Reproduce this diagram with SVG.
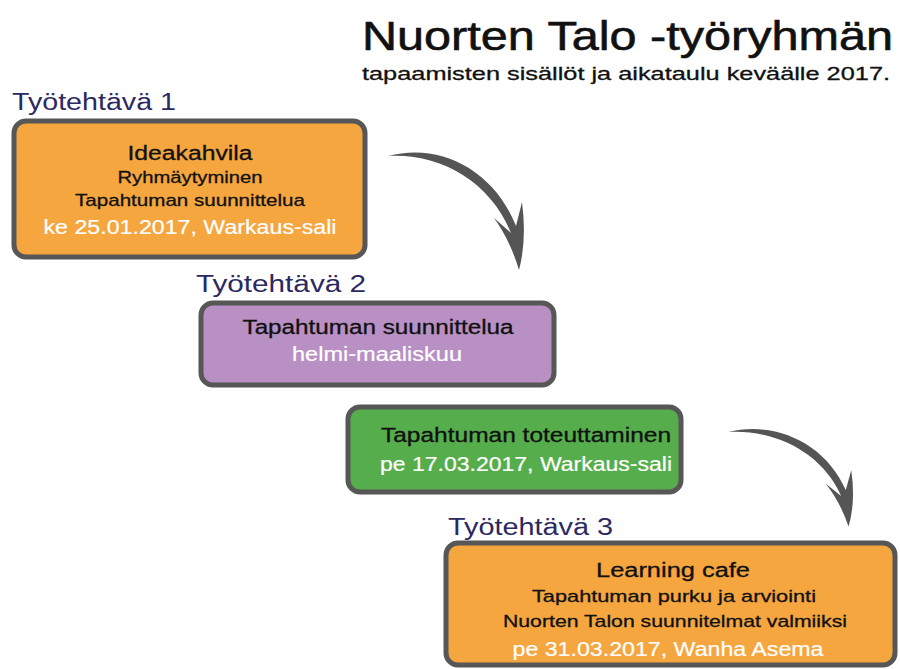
<svg xmlns="http://www.w3.org/2000/svg" width="900" height="669" viewBox="0 0 900 669">
<defs>
<style>
.box{stroke:#575757;stroke-width:5;stroke-linejoin:round}
.lbl{font-family:"Liberation Sans","DejaVu Sans",sans-serif;font-size:23px;fill:#2b2862}
.t{font-family:"Liberation Sans","DejaVu Sans",sans-serif;text-anchor:middle;fill:#111;stroke:#111;stroke-width:0.3}
.h{font-size:20px}
.s{font-size:17px}
.w{fill:#fff;stroke:#fff;stroke-width:0.2;font-size:20px}
.arrow{fill:#555}
</style>
<path id="arr" class="arrow" d="M388,156 C440,142 494,170 516,226 L522,202 Q527,240 519,270 Q510,240 494,218 L511,233 C490,181 440,153 388,156 Z"/>
</defs>
<rect width="900" height="669" fill="#fff"/>
<g id="title">
<text x="362" y="50" font-family="Liberation Sans,DejaVu Sans,sans-serif" font-size="40" fill="#111" stroke="#111" stroke-width="0.6" textLength="531" lengthAdjust="spacingAndGlyphs">Nuorten Talo -työryhmän</text>
<text x="362" y="80" font-family="Liberation Sans,DejaVu Sans,sans-serif" font-size="19" fill="#111" stroke="#111" stroke-width="0.3" textLength="528" lengthAdjust="spacingAndGlyphs">tapaamisten sisällöt ja aikataulu keväälle 2017.</text>
</g>
<g id="connectors">
<use href="#arr"/>
<use href="#arr" transform="translate(728,432) scale(0.92,0.83) translate(-388,-156)"/>
</g>
<g id="node1">
<text class="lbl" x="12" y="110" textLength="164" lengthAdjust="spacingAndGlyphs">Työtehtävä 1</text>
<rect class="box" x="14" y="121" width="351" height="136" rx="12" fill="#f5a63f"/>
<text class="t h" x="190" y="160" textLength="125" lengthAdjust="spacingAndGlyphs">Ideakahvila</text>
<text class="t s" x="190" y="183" textLength="145" lengthAdjust="spacingAndGlyphs">Ryhmäytyminen</text>
<text class="t s" x="190" y="206" textLength="230" lengthAdjust="spacingAndGlyphs">Tapahtuman suunnittelua</text>
<text class="t w" x="190" y="234" textLength="293" lengthAdjust="spacingAndGlyphs">ke 25.01.2017, Warkaus-sali</text>
</g>
<g id="node2">
<text class="lbl" x="196" y="292" textLength="170" lengthAdjust="spacingAndGlyphs">Työtehtävä 2</text>
<rect class="box" x="201" y="303" width="353" height="82" rx="12" fill="#b890c4"/>
<text class="t h" x="378" y="334" textLength="271" lengthAdjust="spacingAndGlyphs">Tapahtuman suunnittelua</text>
<text class="t w" x="377" y="361" textLength="170" lengthAdjust="spacingAndGlyphs">helmi-maaliskuu</text>
</g>
<g id="node3">
<rect class="box" x="348" y="407" width="333" height="85" rx="12" fill="#55ad4b"/>
<text class="t h" x="526" y="442" textLength="290" lengthAdjust="spacingAndGlyphs">Tapahtuman toteuttaminen</text>
<text class="t w" x="526" y="471" textLength="292" lengthAdjust="spacingAndGlyphs">pe 17.03.2017, Warkaus-sali</text>
</g>
<g id="node4">
<text class="lbl" x="448" y="535" textLength="165" lengthAdjust="spacingAndGlyphs">Työtehtävä 3</text>
<rect class="box" x="446" y="543" width="449" height="122" rx="12" fill="#f5a63f"/>
<text class="t h" x="673" y="577" textLength="154" lengthAdjust="spacingAndGlyphs">Learning cafe</text>
<text class="t s" x="674" y="602" textLength="284" lengthAdjust="spacingAndGlyphs">Tapahtuman purku ja arviointi</text>
<text class="t s" x="675" y="627" textLength="344" lengthAdjust="spacingAndGlyphs">Nuorten Talon suunnitelmat valmiiksi</text>
<text class="t w" x="668" y="656" textLength="311" lengthAdjust="spacingAndGlyphs">pe 31.03.2017, Wanha Asema</text>
</g>
</svg>
